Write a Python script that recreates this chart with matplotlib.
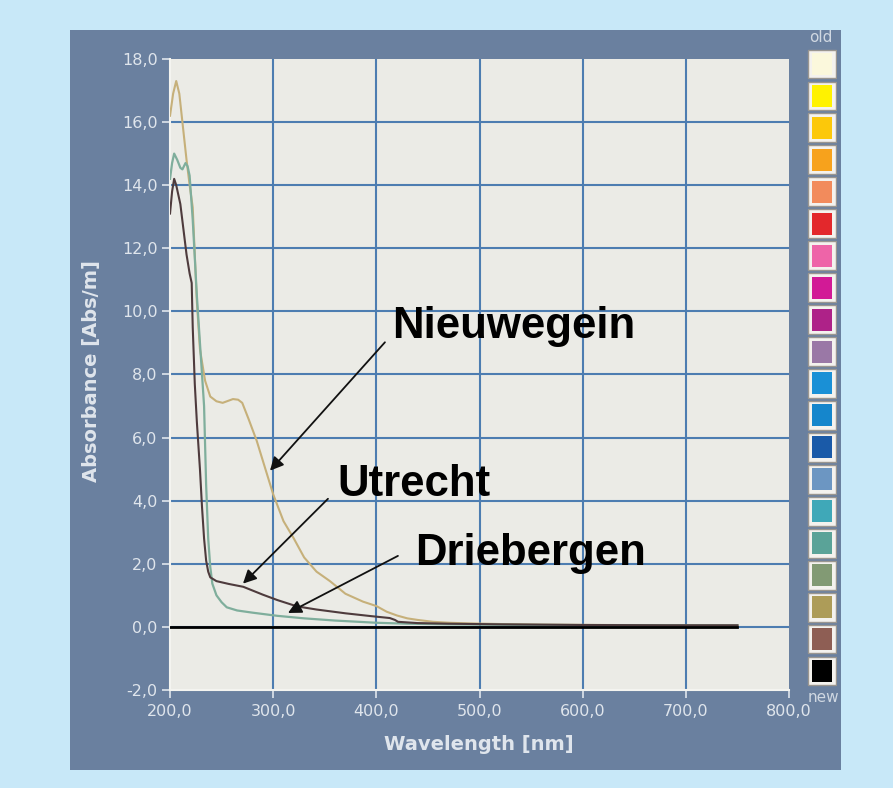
import matplotlib
matplotlib.use('Agg')
import matplotlib.pyplot as plt
from matplotlib.patches import Rectangle

# absorbance spectra (wavelength in nm, absorbance in Abs/m)
wl_nieuwegein = [200, 203, 206, 209, 212, 216, 219, 222, 226, 229, 234, 239, 245, 251, 261, 266, 270,
                 276, 284, 292, 300, 310, 320, 330, 342, 355, 370, 387, 400, 410, 420, 430, 440, 455,
                 471, 490, 520, 560, 620, 680, 750]
abs_nieuwegein = [16.2, 16.9, 17.3, 16.9, 16.0, 14.8, 14.0, 13.3, 10.3, 8.8, 7.8, 7.3, 7.15, 7.1, 7.22, 7.2, 7.1,
                  6.6, 5.9, 5.05, 4.2, 3.35, 2.8, 2.2, 1.75, 1.45, 1.05, 0.8, 0.66, 0.48, 0.36, 0.27, 0.22, 0.16,
                  0.13, 0.11, 0.09, 0.07, 0.06, 0.05, 0.04]

wl_driebergen = [200, 202, 204, 207, 210, 212, 215, 217, 219, 222, 226, 230, 233, 235, 237, 239, 241,
                 245, 250, 255, 265, 280, 304, 330, 360, 400, 430, 470, 550, 650, 750]
abs_driebergen = [14.2, 14.7, 15.0, 14.8, 14.55, 14.5, 14.7, 14.6, 14.3, 12.9, 10.5, 8.5, 7.0, 4.5, 2.8, 1.9, 1.37,
                  1.0, 0.78, 0.62, 0.52, 0.45, 0.35, 0.27, 0.2, 0.13, 0.1, 0.08, 0.06, 0.05, 0.04]

wl_utrecht = [200, 202, 204, 206, 208, 210, 213, 216, 219, 221, 222, 224, 226, 229, 231, 233, 235, 237, 239,
              245, 257, 271, 290, 304, 323, 342, 370, 395, 413, 418, 421, 440, 470, 520, 600, 680, 750]
abs_utrecht = [13.1, 13.8, 14.2, 14.0, 13.7, 13.4, 12.6, 11.8, 11.2, 10.9, 9.5, 7.7, 6.5, 5.0, 3.8, 2.8, 2.1, 1.75, 1.57,
               1.45, 1.36, 1.27, 1.02, 0.85, 0.65, 0.55, 0.43, 0.34, 0.28, 0.22, 0.16, 0.12, 0.1, 0.08, 0.06, 0.05, 0.05]

wl_baseline = [200, 750]
abs_baseline = [0.0, 0.0]

x_ticks = [200, 300, 400, 500, 600, 700, 800]
y_ticks = [-2, 0, 2, 4, 6, 8, 10, 12, 14, 16, 18]

# colour key on the right, top (old) to bottom (new)
key_colors = ['#fbf8dc', '#fff200', '#fcc80a', '#f7a21c', '#f28b5c', '#e3282c', '#ee64a8',
              '#d21a96', '#ae2288', '#9a78a6', '#1a90d6', '#1586cc', '#1a5aa8', '#6c96c2',
              '#3fa8b8', '#5aa398', '#829a74', '#ad9c58', '#8e5e54', '#000000']

light = '#dfe5ec'

fig = plt.figure(figsize=(8.93, 7.88), dpi=100, facecolor='#c8e8f8')
fig.patches.append(Rectangle((0.0784, 0.0228), 0.8634, 0.939, transform=fig.transFigure,
                             facecolor='#6a809f', edgecolor='none', zorder=-10))

ax = fig.add_axes([0.1904, 0.1244, 0.6932, 0.8008])
ax.set_facecolor('#ebebe6')
ax.set_xlim(200, 800)
ax.set_ylim(-2, 18)

for xv in x_ticks[1:-1]:
    ax.axvline(xv, color='#4d7db1', lw=1.5, zorder=1)
for yv in y_ticks[1:-1]:
    ax.axhline(yv, color='#4d7db1', lw=1.5, zorder=1)

ax.plot(wl_nieuwegein, abs_nieuwegein, color='#c6b07a', lw=1.5, zorder=3)
ax.plot(wl_driebergen, abs_driebergen, color='#7fae9c', lw=1.6, zorder=3)
ax.plot(wl_utrecht, abs_utrecht, color='#4e3b3d', lw=1.5, zorder=4)
ax.plot(wl_baseline, abs_baseline, color='#000000', lw=2, zorder=5)

ax.set_xticks(x_ticks)
ax.set_xticklabels([('%.1f' % v).replace('.', ',') for v in x_ticks])
ax.set_yticks(y_ticks)
ax.set_yticklabels([('%.1f' % v).replace('.', ',') for v in y_ticks])
ax.tick_params(direction='out', length=6, width=1.2, color=light, labelcolor=light,
               labelsize=11.5)
ax.tick_params(axis='x', pad=4)
ax.tick_params(axis='y', pad=3)
for side in ['top', 'right']:
    ax.spines[side].set_visible(False)
for side in ['left', 'bottom']:
    ax.spines[side].set_color('#f4f4f0')
    ax.spines[side].set_linewidth(1.5)

fig.text(479 / 893, 1 - 745 / 788, 'Wavelength [nm]', color=light, fontsize=14,
         fontweight='bold', ha='center', va='center')
fig.text(92 / 893, 1 - 371 / 788, 'Absorbance [Abs/m]', color=light, fontsize=14,
         fontweight='bold', ha='center', va='center', rotation=90)

# site labels with arrows
labels = [('Nieuwegein', (415.1, 9.14), (408.3, 9.02), (296.9, 4.95)),
          ('Utrecht', (361.8, 4.16), (353.1, 4.06), (270.7, 1.37)),
          ('Driebergen', (437.4, 1.97), (420.9, 2.25), (314.3, 0.44))]
for name, txt_pos, start, tip in labels:
    ax.text(txt_pos[0], txt_pos[1], name, family='Liberation Sans', fontweight='bold',
            fontsize=31.5, color='black', ha='left', va='baseline', zorder=6)
    ax.annotate('', xy=tip, xytext=start,
                arrowprops=dict(arrowstyle='-|>', color='#111111', lw=1.3,
                                mutation_scale=20, shrinkA=0, shrinkB=0), zorder=6)

# colour key
kax = fig.add_axes([807 / 893, (788 - 687) / 788, 30 / 893, 639 / 788])
kax.set_xlim(0, 30)
kax.set_ylim(len(key_colors) - 0.5, -0.5)
kax.axis('off')
rows = list(range(len(key_colors)))
kax.barh(rows, [28] * len(rows), left=1, height=0.9, color='#f4f2ee', edgecolor='#9a9690', lw=1)
kax.barh(rows, [20] * len(rows), left=5, height=0.69, color=key_colors, edgecolor='none')
fig.text(821 / 893, 1 - 38 / 788, 'old', color='#d0d8e2', fontsize=11, ha='center', va='center')
fig.text(823 / 893, 1 - 697 / 788, 'new', color='#d0d8e2', fontsize=11, ha='center', va='center')

fig.savefig('out.png', dpi=100, facecolor=fig.get_facecolor())
